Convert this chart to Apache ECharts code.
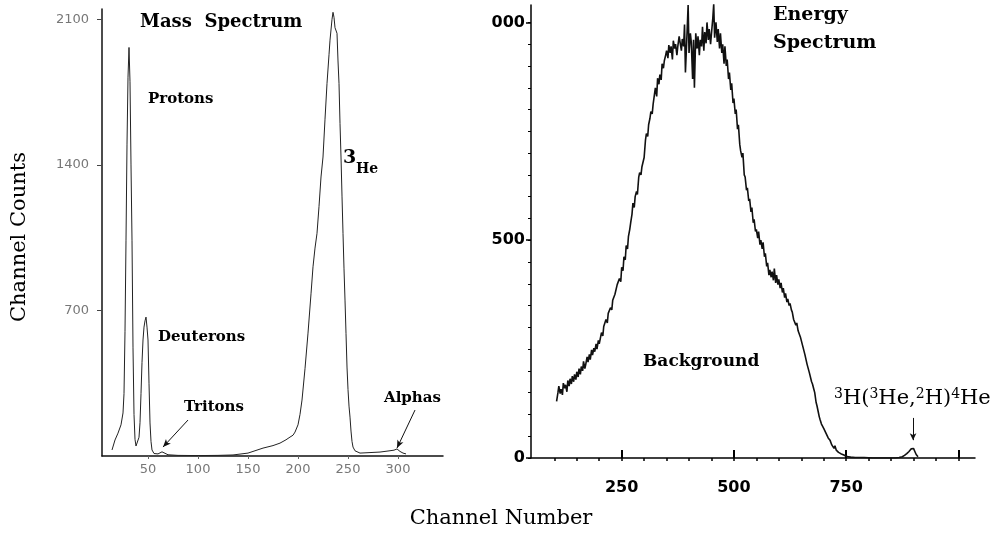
<!DOCTYPE html>
<html>
<head>
<meta charset="utf-8">
<script src="https://cdn.jsdelivr.net/npm/echarts@6/dist/echarts.min.js"></script>
<style>
  html, body { margin: 0; padding: 0; background: #fff; }
  #chart { width: 996px; height: 535px; }
</style>
</head>
<body>
<div id="chart"></div>
<script>
// mass spectrum (left panel): channel number vs channel counts
const massChannels = [14, 17, 20, 23, 25,
  26, 27, 28, 29, 30, 31, 32, 33, 34, 35, 36, 37, 38, 39, 40, 41, 42, 43, 44, 45, 46, 47, 48, 49, 50, 51, 52, 53, 54,
  56, 58, 60, 62, 64, 66, 70, 80, 100, 120,
  135, 150, 165, 175, 182, 188, 192, 195, 197, 200,
  202, 204, 207, 210, 213, 215, 217, 219, 221, 223,
  225, 227, 229, 231, 232, 234, 235, 236, 237, 239,
  240, 241, 242, 243, 244, 245, 246, 247, 248, 249, 250, 251, 252, 253, 254, 255,
  257, 262, 270, 282, 290, 296, 299, 302, 305, 308];
const massCounts = [29, 77, 110, 150, 207,
  300, 600, 1038, 1500, 1822, 1965, 1800, 1400, 1038, 520, 200, 80, 48, 42, 50, 90, 160, 300, 450, 558, 620, 650, 668, 620, 558, 350, 159, 70, 29,
  12, 8, 10, 14, 20, 12, 6, 3, 2, 3,
  5, 14, 38, 50, 62, 78, 91, 100, 115, 150,
  200, 269, 420, 591, 780, 910, 1000, 1071, 1200, 1342,
  1438, 1620, 1792, 1930, 2000, 2100, 2134, 2110, 2060, 2033,
  1900, 1792, 1600, 1438, 1250, 1071, 900, 750, 590, 428, 320, 240, 187, 120, 70, 43,
  25, 14, 16, 19, 24, 28, 34, 22, 14, 10];

// energy spectrum (right panel): [channel, counts]
const energyPoints = [
  [105, 130], [108, 150], [110, 165], [113, 148], [115, 158], [118, 145], [120, 172], [123, 160], [125, 168], [128, 152],
  [130, 178], [133, 165], [135, 182], [138, 170], [140, 188], [143, 175], [145, 192], [148, 180], [150, 198], [153, 186],
  [155, 205], [158, 192], [160, 210], [163, 200], [165, 222], [168, 205], [170, 215], [173, 232], [175, 220], [178, 238],
  [180, 226], [183, 248], [185, 236], [188, 252], [190, 244], [193, 262], [195, 250], [198, 270], [200, 262], [205, 288],
  [208, 280], [210, 302], [215, 318], [218, 310], [220, 332], [225, 345], [228, 340], [230, 362], [235, 376], [238, 372],
  [240, 398], [245, 412], [248, 405], [250, 438], [253, 430], [255, 462], [258, 455], [260, 488], [263, 480], [265, 508],
  [268, 525], [270, 540], [273, 560], [275, 585], [278, 575], [280, 600], [283, 612], [285, 605], [288, 645], [290, 655],
  [293, 650], [295, 668], [298, 672], [300, 690], [303, 730], [305, 745], [308, 738], [310, 765], [313, 780], [315, 795],
  [318, 790], [320, 812], [323, 835], [325, 850], [328, 830], [330, 872], [333, 858], [335, 880], [338, 868], [340, 905],
  [343, 895], [345, 912], [348, 925], [350, 935], [353, 918], [355, 948], [358, 930], [360, 945], [363, 915], [365, 958],
  [368, 940], [370, 950], [373, 925], [375, 945], [378, 968], [380, 955], [383, 935], [385, 962], [388, 945], [390, 995],
  [392, 885], [395, 960], [398, 1040], [400, 930], [403, 975], [405, 955], [408, 870], [410, 960], [412, 850], [415, 975],
  [418, 940], [420, 968], [423, 925], [425, 960], [428, 945], [430, 990], [433, 935], [435, 978], [438, 952], [440, 1000],
  [443, 960], [445, 985], [448, 950], [450, 975], [453, 1010], [455, 1042], [457, 965], [460, 1000], [463, 955], [465, 985],
  [468, 940], [470, 975], [473, 930], [475, 950], [478, 905], [480, 945], [483, 900], [485, 915], [488, 870], [490, 885],
  [493, 845], [495, 860], [498, 815], [500, 825], [503, 790], [505, 800], [508, 755], [510, 765], [513, 720], [515, 705],
  [518, 690], [520, 700], [523, 650], [525, 645], [528, 615], [530, 620], [533, 590], [535, 595], [538, 565], [540, 575],
  [543, 540], [545, 548], [548, 520], [550, 525], [553, 505], [555, 520], [558, 490], [560, 500], [563, 480], [565, 495],
  [568, 462], [570, 470], [573, 440], [575, 448], [578, 420], [580, 432], [583, 415], [585, 428], [588, 408], [590, 435],
  [593, 402], [595, 420], [598, 398], [600, 410], [603, 390], [605, 402], [608, 380], [610, 390], [613, 368], [615, 378],
  [618, 358], [620, 365], [623, 350], [625, 355], [628, 340], [630, 335], [633, 318], [635, 322], [638, 305], [640, 310],
  [643, 292], [645, 295], [648, 278], [650, 275], [653, 258], [655, 255], [658, 238], [660, 236], [663, 215], [665, 212],
  [668, 196], [670, 192], [673, 175], [675, 170], [678, 158], [680, 150], [683, 128], [685, 120], [688, 105], [690, 95],
  [692, 88], [695, 78], [700, 68], [705, 57], [710, 46], [714, 41], [718, 30], [720, 32], [723, 22], [725, 28],
  [728, 18], [730, 20], [733, 13], [735, 15], [738, 10], [740, 12], [745, 7], [750, 4], [755, 3], [760, 2],
  [770, 1], [790, 1], [810, 0], [830, 0], [850, 0], [860, 0], [868, 1], [875, 3], [880, 6], [885, 10],
  [890, 15], [895, 21], [898, 25], [900, 22], [903, 15], [906, 8], [910, 3]
];

// tick values
const massChannelTicks = [50, 100, 150, 200, 250, 300];
const massCountTicks = [700, 1400, 2100];
const energyChannelLabels = [250, 500, 750];
const energyChannelMajor = [250, 500, 750, 1000];
const energyChannelMinor = [100, 150, 200, 250, 300, 350, 400, 450, 500, 550, 600, 650, 700, 750, 800, 850, 900, 950, 1000];
const energyCountMajor = [0, 500, 1000];
const energyCountMinor = [0, 50, 100, 150, 200, 250, 300, 350, 400, 450, 500, 550, 600, 650, 700, 750, 800, 850, 900, 950, 1000];

const massData = massChannels.map((c, i) => [c, massCounts[i]]);

const SERIF = '"DejaVu Serif", "Liberation Serif", serif';
const SANS = '"DejaVu Sans", "Liberation Sans", sans-serif';

const chart = echarts.init(document.getElementById('chart'));

const text = (x, y, str, font, extra) => ({
  type: 'text', x, y, silent: true,
  style: Object.assign({ text: str, font, fill: '#000', textAlign: 'left', textVerticalAlign: 'middle' }, extra || {}),
});

chart.setOption({
  animation: false,
  backgroundColor: '#fff',
  grid: [
    { left: 102, top: 9, width: 341, height: 447 },
    { left: 531, top: 5, width: 444, height: 453 },
  ],
  xAxis: [
    {
      gridIndex: 0, type: 'value', min: 4, max: 345, position: 'bottom',
      axisLine: { show: true, onZero: false, lineStyle: { color: '#111', width: 1.5 } },
      axisTick: { show: true, customValues: massChannelTicks, length: 3, lineStyle: { color: '#666' } },
      axisLabel: { customValues: massChannelTicks, color: '#777', fontSize: 13, fontFamily: SANS, margin: 7 },
      splitLine: { show: false },
    },
    {
      gridIndex: 1, type: 'value', min: 48, max: 1037, position: 'bottom',
      axisLine: { show: true, onZero: false, lineStyle: { color: '#000', width: 1.5 } },
      axisTick: { show: true, inside: true, customValues: energyChannelMajor, length: 8, lineStyle: { color: '#000', width: 2 } },
      axisLabel: { customValues: energyChannelLabels, color: '#000', fontSize: 16, fontWeight: 'bold', fontFamily: SANS, margin: 22 },
      splitLine: { show: false },
    },
    {
      gridIndex: 1, type: 'value', min: 48, max: 1037, position: 'bottom', offset: 0,
      axisLine: { show: false },
      axisTick: { show: true, customValues: energyChannelMinor, length: 3, lineStyle: { color: '#000', width: 1.5 } },
      axisLabel: { show: false },
      splitLine: { show: false },
    },
  ],
  yAxis: [
    {
      gridIndex: 0, type: 'value', min: 0, max: 2150,
      axisLine: { show: true, lineStyle: { color: '#111', width: 1.5 } },
      axisTick: { show: true, customValues: massCountTicks, length: 5, lineStyle: { color: '#444' } },
      axisLabel: { customValues: massCountTicks, color: '#777', fontSize: 13, fontFamily: SANS, margin: 13, formatter: (v) => String(v) },
      splitLine: { show: false },
    },
    {
      gridIndex: 1, type: 'value', min: 0, max: 1040, position: 'left',
      axisLine: { show: true, lineStyle: { color: '#000', width: 1.5 } },
      axisTick: { show: true, customValues: energyCountMajor, length: 5, lineStyle: { color: '#000', width: 1.5 } },
      axisLabel: {
        customValues: energyCountMajor, color: '#000', fontSize: 16, fontWeight: 'bold', fontFamily: SANS, margin: 6,
        formatter: (v) => (v === 1000 ? '000' : String(v)), // scan cuts off the leading "1"
      },
      splitLine: { show: false },
    },
    {
      gridIndex: 1, type: 'value', min: 0, max: 1040, position: 'left', offset: 0,
      axisLine: { show: false },
      axisTick: { show: true, customValues: energyCountMinor, length: 3, lineStyle: { color: '#000', width: 1 } },
      axisLabel: { show: false },
      splitLine: { show: false },
    },
  ],
  series: [
    {
      type: 'line', xAxisIndex: 0, yAxisIndex: 0, data: massData,
      symbol: 'none', lineStyle: { color: '#222', width: 1 },
      markLine: {
        silent: true, symbol: ['none', 'arrow'], symbolSize: [5, 8],
        lineStyle: { color: '#111', width: 1, type: 'solid' }, label: { show: false },
        data: [
          [{ coord: [90, 173] }, { coord: [65, 43] }],
          [{ coord: [317, 221] }, { coord: [299, 38] }],
        ],
      },
    },
    {
      type: 'line', xAxisIndex: 1, yAxisIndex: 1, data: energyPoints,
      symbol: 'none', lineStyle: { color: '#111', width: 1.6 },
      markLine: {
        silent: true, symbol: ['none', 'arrow'], symbolSize: [5, 7],
        lineStyle: { color: '#111', width: 1, type: 'solid' }, label: { show: false },
        data: [[{ coord: [899, 92] }, { coord: [899, 41] }]],
      },
    },
  ],
  graphic: [
    text(140, 22, 'Mass  Spectrum', 'bold 18px ' + SERIF),
    text(148, 99, 'Protons', 'bold 15px ' + SERIF),
    text(158, 337, 'Deuterons', 'bold 15px ' + SERIF),
    text(184, 407, 'Tritons', 'bold 15px ' + SERIF),
    text(384, 398, 'Alphas', 'bold 15px ' + SERIF),
    text(343, 158, '3', 'bold 19px ' + SERIF),
    text(356, 169, 'He', 'bold 14px ' + SERIF),
    text(773, 15, 'Energy', 'bold 19px ' + SERIF),
    text(773, 43, 'Spectrum', 'bold 19px ' + SERIF),
    text(643, 362, 'Background', 'bold 17px ' + SERIF),
    {
      type: 'text', x: 834, y: 398, silent: true,
      style: {
        text: '{s|3}{b|H(}{s|3}{b|He,}{s|2}{b|H)}{s|4}{b|He}',
        textAlign: 'left', textVerticalAlign: 'middle',
        rich: {
          b: { fontSize: 21, fontFamily: SERIF, color: '#000', lineHeight: 22, verticalAlign: 'bottom' },
          s: { fontSize: 14, fontFamily: SERIF, color: '#000', lineHeight: 12, verticalAlign: 'top' },
        },
      },
    },
    {
      type: 'text', x: 20, y: 237, rotation: Math.PI / 2, silent: true,
      style: { text: 'Channel Counts', font: '21px ' + SERIF, fill: '#000', textAlign: 'center', textVerticalAlign: 'middle' },
    },
    text(501, 519, 'Channel Number', '21px ' + SERIF, { textAlign: 'center' }),
  ],
});
</script>
</body>
</html>
